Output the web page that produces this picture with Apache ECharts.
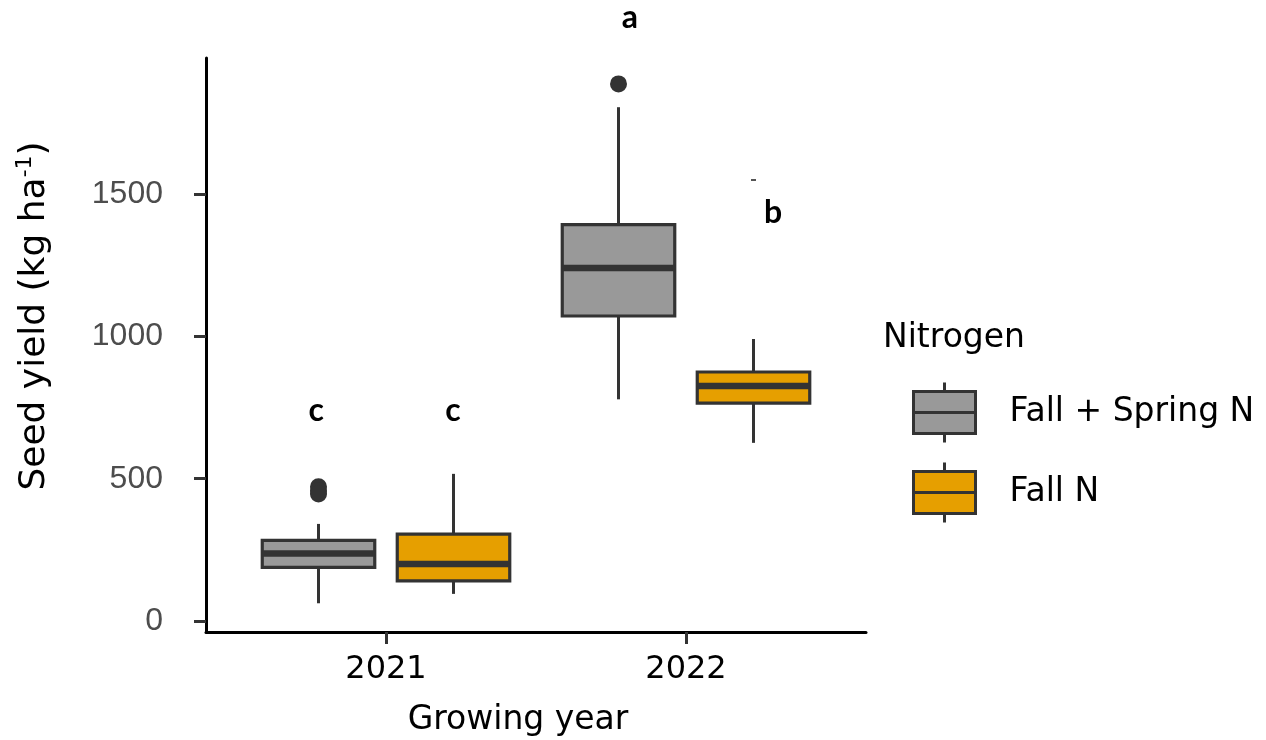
<!DOCTYPE html>
<html>
<head>
<meta charset="utf-8">
<script src="https://cdn.jsdelivr.net/npm/echarts@6/dist/echarts.min.js"></script>
<style>
  html, body { margin: 0; padding: 0; background: #ffffff; }
  #chart { width: 1266px; height: 740px; }
</style>
</head>
<body>
<div id="chart"></div>
<script>
// ---------- data ----------
const years = ['2021', '2022'];
const groups = ['Fall + Spring N', 'Fall N'];
const yTicks = [0, 500, 1000, 1500];
// five-number summaries per year: [min, Q1, median, Q3, max]
const fallSpringStats = [
  [62, 188, 237, 283, 341],
  [779, 1072, 1241, 1393, 1806]
];
const fallStats = [
  [95, 141, 200, 305, 517],
  [626, 766, 826, 875, 991]
];
// outliers: [year index, value]
const fallSpringOutliers = [[0, 472], [0, 458], [0, 446], [1, 1888]];
const fallOutliers = [[1, 1550]];
// significance letters: x position (axis units), y value, text
const letterText = ['c', 'c', 'a', 'b'];
const letterX = [0.767, 1.223, 1.813, 2.29];
const letterY = [738, 738, 2122, 1434];

// ---------- styling / layout constants ----------
const FONT = 'DejaVu Sans';
const greyFill = '#999999';
const orangeFill = '#E69F00';
const lineCol = '#333333';
const dodge = 0.225;     // dodge offset of each group from the year position
const boxWidth = 0.375;  // box width in axis units

function boxData(stats, offset) {
  return stats.map((s, i) => [i + 1 + offset].concat(s));
}
function outlierData(list, offset) {
  return list.map(p => [p[0] + 1 + offset, p[1]]);
}

function renderBox(fill) {
  return function (params, api) {
    const x = api.value(0);
    const pMin = api.coord([x, api.value(1)]);
    const pQ1 = api.coord([x, api.value(2)]);
    const pMed = api.coord([x, api.value(3)]);
    const pQ3 = api.coord([x, api.value(4)]);
    const pMax = api.coord([x, api.value(5)]);
    const left = api.coord([x - boxWidth / 2, api.value(3)])[0];
    const right = api.coord([x + boxWidth / 2, api.value(3)])[0];
    const cx = pMed[0];
    return {
      type: 'group',
      children: [
        { type: 'line', shape: { x1: cx, y1: pQ3[1], x2: cx, y2: pMax[1] },
          style: { stroke: lineCol, lineWidth: 3 } },
        { type: 'line', shape: { x1: cx, y1: pQ1[1], x2: cx, y2: pMin[1] },
          style: { stroke: lineCol, lineWidth: 3 } },
        { type: 'rect', shape: { x: left, y: pQ3[1], width: right - left, height: pQ1[1] - pQ3[1] },
          style: { fill: fill, stroke: lineCol, lineWidth: 3.2 } },
        { type: 'line', shape: { x1: left, y1: pMed[1], x2: right, y2: pMed[1] },
          style: { stroke: lineCol, lineWidth: 6.5 } }
      ]
    };
  };
}

const legendIcon = 'path://M31,0 L31,9 M0,9 L62,9 L62,51 L0,51 Z M0,30 L62,30 M31,51 L31,60';

const chart = echarts.init(document.getElementById('chart'), null, { renderer: 'canvas' });

const option = {
  backgroundColor: '#ffffff',
  animation: false,
  grid: { left: 206, right: 400, top: 58, bottom: 108, containLabel: false, outerBoundsMode: 'none' },
  xAxis: {
    type: 'value',
    min: 0.4,
    max: 2.6,
    splitLine: { show: false },
    axisLine: { show: true, onZero: false, lineStyle: { color: '#000', width: 3 } },
    axisTick: { show: true, length: 12, customValues: [1, 2], lineStyle: { color: lineCol, width: 3 } },
    axisLabel: {
      customValues: [1, 2],
      formatter: v => years[Math.round(v) - 1] || '',
      color: '#000', fontFamily: FONT, fontSize: 32, margin: 22
    },
    name: 'Growing year',
    nameLocation: 'middle',
    nameGap: 72,
    nameTextStyle: { color: '#000', fontFamily: FONT, fontSize: 33, padding: [0, 36, 0, 0] }
  },
  yAxis: {
    type: 'value',
    min: -39,
    max: 1979,
    splitLine: { show: false },
    axisLine: { show: true, onZero: false, lineStyle: { color: '#000', width: 3 } },
    axisTick: { show: true, length: 12, customValues: yTicks, lineStyle: { color: lineCol, width: 3 } },
    axisLabel: {
      customValues: yTicks,
      formatter: v => String(v),
      color: '#4D4D4D', fontFamily: 'Liberation Sans', fontSize: 32, margin: 43
    }
  },
  legend: {
    orient: 'vertical',
    left: 912,
    top: 381,
    padding: 0,
    itemWidth: 62,
    itemHeight: 60,
    itemGap: 17,
    selectedMode: false,
    textStyle: { color: '#000', fontFamily: FONT, fontSize: 33, padding: [0, 0, 0, 29] },
    data: [
      { name: groups[0], icon: legendIcon, itemStyle: { color: greyFill, borderColor: lineCol, borderWidth: 3 } },
      { name: groups[1], icon: legendIcon, itemStyle: { color: orangeFill, borderColor: lineCol, borderWidth: 3 } }
    ]
  },
  graphic: [
    { type: 'text', x: 883, y: 338,
      style: { text: 'Nitrogen', fill: '#000', font: '33px "DejaVu Sans"', verticalAlign: 'middle' } },
    { type: 'text', x: 35, y: 316, rotation: Math.PI / 2,
      style: {
        text: '{n|Seed yield (kg ha}{s|-1}{n|)}',
        align: 'center', verticalAlign: 'middle',
        rich: {
          n: { fill: '#000', fontFamily: FONT, fontSize: 36, lineHeight: 42 },
          s: { fill: '#000', fontFamily: FONT, fontSize: 22, verticalAlign: 'top', lineHeight: 42 }
        }
      }
    }
  ],
  series: [
    {
      name: groups[0],
      type: 'custom',
      itemStyle: { color: greyFill, borderColor: lineCol },
      renderItem: renderBox(greyFill),
      encode: { x: 0, y: [1, 2, 3, 4, 5] },
      data: boxData(fallSpringStats, -dodge)
    },
    {
      name: groups[1],
      type: 'custom',
      itemStyle: { color: orangeFill, borderColor: lineCol },
      renderItem: renderBox(orangeFill),
      encode: { x: 0, y: [1, 2, 3, 4, 5] },
      data: boxData(fallStats, dodge)
    },
    {
      name: 'outliers-fs',
      type: 'scatter',
      symbol: 'circle',
      symbolSize: 17,
      itemStyle: { color: lineCol, opacity: 1 },
      data: outlierData(fallSpringOutliers, -dodge)
    },
    {
      name: 'outliers-f',
      type: 'scatter',
      symbol: 'rect',
      symbolSize: [5, 2],
      itemStyle: { color: '#555555', opacity: 1 },
      data: outlierData(fallOutliers, dodge)
    },
    {
      name: 'letters',
      type: 'scatter',
      clip: false,
      symbolSize: 0,
      silent: true,
      itemStyle: { opacity: 1 },
      label: {
        show: true,
        position: 'inside',
        formatter: p => p.value[2],
        color: '#000',
        fontFamily: 'Lato',
        fontWeight: 'bold',
        fontSize: 32
      },
      data: letterText.map((t, i) => [letterX[i], letterY[i], t])
    }
  ]
};
chart.setOption(option);
</script>
</body>
</html>
